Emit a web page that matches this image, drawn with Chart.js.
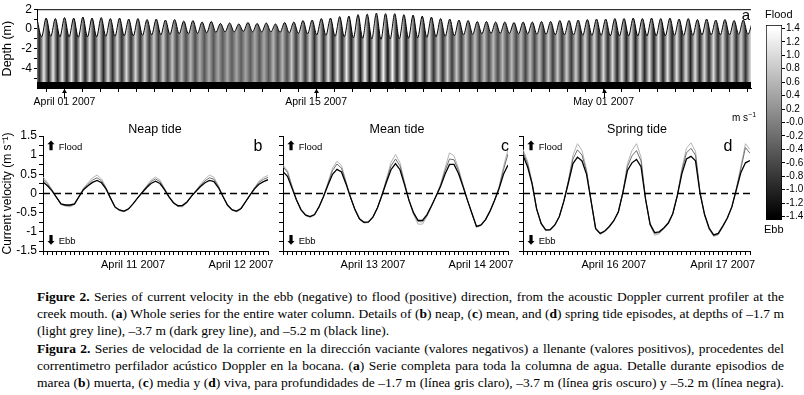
<!DOCTYPE html>
<html>
<head>
<meta charset="utf-8">
<script src="https://cdn.jsdelivr.net/npm/chart.js@4.4.1/dist/chart.umd.min.js"></script>
<style>
  body { margin: 0; background: #fff; }
  #fig { position: relative; width: 804px; height: 395px; overflow: hidden; color: #000;
         font-family: 'Liberation Sans', Arial, sans-serif; }
  .box { position: absolute; }
  .t { position: absolute; white-space: nowrap; line-height: 1; }
  .c { transform: translate(-50%, -50%); }
  .l { transform: translate(0, -50%); }
  #cap { position: absolute; left: 37px; top: 288px; width: 747px; line-height: 17px;
         font-family: 'Liberation Serif', 'Times New Roman', serif; font-size: 13.5px; }
  #cap div { white-space: nowrap; text-align: justify; text-align-last: justify; }
  #cap div.last { text-align-last: left; }
  #cap div.gap { margin-top: 1px; }
</style>
</head>
<body>
<div id="fig">
  <div class="box" style="left:0;top:0;width:760px;height:112px"><canvas id="chartWhole"></canvas></div>
  <div class="box" style="left:700px;top:0;width:104px;height:240px"><canvas id="chartScale"></canvas></div>
  <div class="box" style="left:0;top:115px;width:280px;height:160px"><canvas id="chartNeap"></canvas></div>
  <div class="box" style="left:270px;top:115px;width:250px;height:160px"><canvas id="chartMean"></canvas></div>
  <div class="box" style="left:510px;top:115px;width:250px;height:160px"><canvas id="chartSpring"></canvas></div>

  <span class="t c" style="left:746px;top:14px;font-size:15px">a</span>
  <span class="t l" style="left:765px;top:14px;font-size:11px">Flood</span>
  <span class="t l" style="left:764px;top:229px;font-size:11px">Ebb</span>
  <span class="t l" style="left:732px;top:117px;font-size:10px">m s<sup style="font-size:7px">−1</sup></span>

  <span class="t c" style="left:155px;top:129px;font-size:12.5px">Neap tide</span>
  <span class="t c" style="left:397px;top:129px;font-size:12.5px">Mean tide</span>
  <span class="t c" style="left:637px;top:129px;font-size:12.5px">Spring tide</span>
  <span class="t c" style="left:258px;top:146px;font-size:16px">b</span>
  <span class="t c" style="left:505px;top:146px;font-size:16px">c</span>
  <span class="t c" style="left:728px;top:146px;font-size:16px">d</span>

  <span class="t l" style="left:46px;top:146px;font-size:9.5px"><b style="font-size:12px">⬆</b> Flood</span>
  <span class="t l" style="left:46px;top:240px;font-size:9.5px"><b style="font-size:12px">⬇</b> Ebb</span>
  <span class="t l" style="left:286px;top:146px;font-size:9.5px"><b style="font-size:12px">⬆</b> Flood</span>
  <span class="t l" style="left:286px;top:240px;font-size:9.5px"><b style="font-size:12px">⬇</b> Ebb</span>
  <span class="t l" style="left:526px;top:146px;font-size:9.5px"><b style="font-size:12px">⬆</b> Flood</span>
  <span class="t l" style="left:526px;top:240px;font-size:9.5px"><b style="font-size:12px">⬇</b> Ebb</span>

  <div id="cap">
    <div><b>Figure 2.</b> Series of current velocity in the ebb (negative) to flood (positive) direction, from the acoustic Doppler current profiler at the</div>
    <div>creek mouth. (<b>a</b>) Whole series for the entire water column. Details of (<b>b</b>) neap, (<b>c</b>) mean, and (<b>d</b>) spring tide episodes, at depths of –1.7 m</div>
    <div class="last">(light grey line), –3.7 m (dark grey line), and –5.2 m (black line).</div>
    <div class="gap"><b>Figura 2.</b> Series de velocidad de la corriente en la dirección vaciante (valores negativos) a llenante (valores positivos), procedentes del</div>
    <div>correntimetro perfilador acústico Doppler en la bocana. (<b>a</b>) Serie completa para toda la columna de agua. Detalle durante episodios de</div>
    <div>marea (<b>b</b>) muerta, (<b>c</b>) media y (<b>d</b>) viva, para profundidades de –1.7 m (línea gris claro), –3.7 m (línea gris oscuro) y –5.2 m (línea negra).</div>
  </div>
</div>

<script>
// ---- (a) whole record: water surface (m) at successive high / low waters
const highWater = [1.0, 1.1, 1.05, 1.15, 1.1, 1.2, 1.1, 1.15, 1.05, 1.1,
  1.0, 1.05, 0.95, 1.0, 0.9, 0.95, 0.8, 0.85, 0.7, 0.75,
  0.55, 0.6, 0.5, 0.65, 0.55, 0.6, 0.5, 0.65, 0.7, 0.85,
  0.9, 1.05, 1.1, 1.25, 1.3, 1.45, 1.5, 1.6, 1.55, 1.55,
  1.45, 1.4, 1.3, 1.2, 1.05, 1.0, 0.9, 0.85, 0.75, 0.75,
  0.7, 0.7, 0.65, 0.7, 0.7, 0.75, 0.75, 0.85, 0.85, 0.9,
  0.95, 1.0, 1.0, 1.05, 1.05, 1.1, 1.05, 1.1, 1.05, 1.1,
  1.0, 1.05, 0.95, 1.0, 0.9, 0.95, 0.85, 0.9, 0.75];
const lowWater = [-0.8, -0.75, -0.8, -0.8, -0.85, -0.8, -0.8, -0.75, -0.75, -0.7,
  -0.7, -0.65, -0.6, -0.6, -0.55, -0.5, -0.5, -0.45, -0.4, -0.35,
  -0.3, -0.3, -0.25, -0.3, -0.3, -0.3, -0.35, -0.4, -0.45, -0.5,
  -0.6, -0.65, -0.75, -0.8, -0.9, -0.95, -1.0, -1.05, -1.0, -1.0,
  -0.95, -0.9, -0.85, -0.8, -0.75, -0.7, -0.6, -0.55, -0.5, -0.45,
  -0.45, -0.45, -0.5, -0.5, -0.55, -0.55, -0.6, -0.6, -0.6, -0.65,
  -0.65, -0.65, -0.7, -0.7, -0.7, -0.7, -0.7, -0.7, -0.7, -0.65,
  -0.65, -0.65, -0.6, -0.6, -0.6, -0.6, -0.55, -0.55];
// daily peak flood / ebb velocity (m s-1), days -2 .. 38 from April 01
const floodPeak = [1.1, 1.15, 1.15, 1.1, 1.05, 1.0, 0.95, 0.85, 0.75, 0.6,
  0.5, 0.45, 0.4, 0.45, 0.6, 0.8, 0.95, 1.1, 1.2, 1.3,
  1.3, 1.2, 1.05, 0.9, 0.8, 0.7, 0.65, 0.65, 0.7, 0.8,
  0.85, 0.95, 1.0, 1.05, 1.1, 1.1, 1.1, 1.05, 1.0, 0.95, 0.9];
const ebbPeak = [-1.0, -1.05, -1.05, -1.0, -0.95, -0.9, -0.85, -0.75, -0.65, -0.55,
  -0.45, -0.4, -0.4, -0.45, -0.55, -0.75, -0.9, -1.0, -1.1, -1.2,
  -1.2, -1.1, -0.95, -0.85, -0.75, -0.65, -0.6, -0.6, -0.65, -0.75,
  -0.8, -0.9, -0.95, -1.0, -1.0, -1.05, -1.0, -1.0, -0.95, -0.9, -0.85];
const firstDay = -2;
const surfaceStart = -1.53;     // days from April 01, first high water
const halfTide = 0.2552;        // days between high and low water
const dayMin = -1.53, dayMax = 38.2;
const bedLevel = -5.4;
const depthTicks = [2, 1, 0, -1, -2, -3, -4, -5];
const depthLabels = ['2', '', '0', '', '-2', '', '-4', ''];
const markDays = [0, 14, 30];
const markLabels = ['April 01 2007', 'April 15 2007', 'May 01 2007'];

// colour scale
const scaleTicks = [1.4, 1.2, 1.0, 0.8, 0.6, 0.4, 0.2, 0, -0.2, -0.4, -0.6, -0.8, -1.0, -1.2, -1.4];
const scaleLabels = ['1.4', '1.2', '1.0', '0.8', '0.6', '0.4', '0.2', '-0.0', '-0.2', '-0.4', '-0.6', '-0.8', '-1.0', '-1.2', '-1.4'];

// ---- (b)(c)(d) hourly velocity, hours from 04:00 of the day before the first label
const neapBlack = [0.30, 0.20, 0.07, -0.10, -0.27, -0.30, -0.30, -0.27, -0.08, 0.10, 0.20, 0.29, 0.34, 0.28, 0.12, -0.12, -0.35, -0.43, -0.46, -0.40, -0.27, -0.12, 0.02, 0.15, 0.26, 0.32, 0.26, 0.10, -0.09, -0.24, -0.32, -0.31, -0.22, -0.07, 0.06, 0.18, 0.28, 0.34, 0.31, 0.15, -0.08, -0.30, -0.42, -0.46, -0.39, -0.22, -0.04, 0.12, 0.24, 0.31, 0.36];
const neapDark = [0.37, 0.25, 0.09, -0.10, -0.28, -0.31, -0.32, -0.28, -0.08, 0.12, 0.24, 0.35, 0.41, 0.33, 0.14, -0.12, -0.36, -0.44, -0.47, -0.41, -0.27, -0.12, 0.03, 0.18, 0.31, 0.38, 0.31, 0.12, -0.09, -0.25, -0.33, -0.33, -0.23, -0.07, 0.07, 0.21, 0.33, 0.41, 0.37, 0.18, -0.08, -0.31, -0.43, -0.47, -0.40, -0.22, -0.04, 0.14, 0.29, 0.37, 0.42];
const neapLight = [0.43, 0.29, 0.10, -0.10, -0.29, -0.33, -0.35, -0.29, -0.08, 0.14, 0.28, 0.41, 0.48, 0.38, 0.16, -0.12, -0.37, -0.45, -0.48, -0.42, -0.27, -0.12, 0.03, 0.20, 0.35, 0.43, 0.35, 0.13, -0.09, -0.26, -0.34, -0.35, -0.24, -0.07, 0.08, 0.24, 0.38, 0.48, 0.42, 0.20, -0.08, -0.32, -0.44, -0.48, -0.41, -0.22, -0.04, 0.15, 0.32, 0.42, 0.47];
const meanBlack = [0.57, 0.45, 0.14, -0.17, -0.42, -0.56, -0.60, -0.55, -0.35, -0.08, 0.22, 0.50, 0.63, 0.56, 0.25, -0.10, -0.42, -0.66, -0.75, -0.74, -0.61, -0.37, -0.04, 0.30, 0.62, 0.78, 0.62, 0.23, -0.18, -0.50, -0.70, -0.70, -0.55, -0.32, -0.07, 0.18, 0.50, 0.76, 0.76, 0.52, 0.18, -0.18, -0.52, -0.86, -0.82, -0.68, -0.46, -0.18, 0.12, 0.50, 0.74];
const meanDark = [0.70, 0.55, 0.18, -0.17, -0.43, -0.57, -0.61, -0.56, -0.35, -0.08, 0.26, 0.60, 0.77, 0.66, 0.29, -0.10, -0.43, -0.67, -0.76, -0.75, -0.62, -0.37, -0.04, 0.35, 0.72, 0.90, 0.72, 0.27, -0.18, -0.51, -0.73, -0.74, -0.57, -0.33, -0.07, 0.21, 0.59, 0.90, 0.88, 0.60, 0.21, -0.18, -0.53, -0.87, -0.83, -0.69, -0.46, -0.18, 0.15, 0.62, 1.03];
const meanLight = [0.74, 0.60, 0.20, -0.17, -0.44, -0.58, -0.62, -0.57, -0.35, -0.08, 0.29, 0.66, 0.84, 0.73, 0.32, -0.10, -0.44, -0.68, -0.77, -0.76, -0.62, -0.37, -0.04, 0.39, 0.81, 1.02, 0.80, 0.30, -0.18, -0.55, -0.80, -0.80, -0.60, -0.34, -0.07, 0.24, 0.66, 1.06, 0.98, 0.66, 0.23, -0.18, -0.54, -0.88, -0.84, -0.70, -0.47, -0.18, 0.18, 0.70, 1.15];
const springBlack = [1.00, 0.70, 0.25, -0.40, -0.78, -0.95, -0.94, -0.82, -0.60, -0.20, 0.28, 0.78, 0.95, 0.85, 0.50, -0.20, -0.91, -1.04, -0.98, -0.86, -0.71, -0.48, 0.02, 0.60, 0.80, 0.89, 0.70, -0.15, -0.80, -1.02, -1.00, -0.90, -0.77, -0.52, -0.05, 0.52, 0.90, 0.97, 0.85, 0.00, -0.55, -0.90, -1.08, -1.04, -0.85, -0.64, -0.35, 0.10, 0.55, 0.80, 0.86];
const springDark = [1.08, 0.78, 0.28, -0.40, -0.79, -0.96, -0.95, -0.83, -0.60, -0.20, 0.32, 0.90, 1.14, 1.00, 0.58, -0.20, -0.92, -1.05, -0.99, -0.87, -0.71, -0.48, 0.03, 0.70, 0.98, 1.12, 0.85, -0.15, -0.81, -1.04, -1.02, -0.91, -0.78, -0.53, -0.05, 0.60, 1.06, 1.18, 1.00, 0.02, -0.56, -0.92, -1.10, -1.06, -0.86, -0.65, -0.35, 0.12, 0.65, 1.20, 1.05];
const springLight = [1.15, 0.85, 0.30, -0.42, -0.80, -0.97, -0.96, -0.84, -0.61, -0.20, 0.35, 1.00, 1.30, 1.12, 0.62, -0.20, -0.93, -1.07, -1.00, -0.88, -0.72, -0.48, 0.03, 0.78, 1.12, 1.30, 0.95, -0.15, -0.83, -1.09, -1.05, -0.93, -0.79, -0.54, -0.05, 0.66, 1.18, 1.32, 1.10, 0.03, -0.57, -0.94, -1.12, -1.08, -0.88, -0.66, -0.36, 0.14, 0.72, 1.30, 1.15];
const hourMin = 0, hourMax = 50;
const sampleHours = Array.from({length: 51}, (_, i) => i);
const dateHours = [20, 44];
const neapDates = ['April 11 2007', 'April 12 2007'];
const meanDates = ['April 13 2007', 'April 14 2007'];
const springDates = ['April 16 2007', 'April 17 2007'];
const velocityTicks = [1.5, 1.25, 1, 0.75, 0.5, 0.25, 0, -0.25, -0.5, -0.75, -1, -1.25, -1.5];
const velocityLabels = ['1.5', '', '1', '', '0.5', '', '0', '', '-0.5', '', '-1', '', '-1.5'];

// Global Chart.js configuration
Chart.defaults.font.family = "'Liberation Sans', Arial, sans-serif";
Chart.defaults.color = '#000';
Chart.defaults.animation = false;
Chart.defaults.plugins.legend.display = false;
Chart.defaults.plugins.tooltip.enabled = false;

function velocityGrey(v) {
  let t = (v + 1.4) / 2.8;
  t = Math.max(0, Math.min(1, t));
  const g = Math.round(t * 255);
  return 'rgb(' + g + ',' + g + ',' + g + ')';
}

// interleave high and low waters
let surfacePoints = [];
for (let i = 0; i < highWater.length; i++) {
  surfacePoints.push({x: surfaceStart + 2 * i * halfTide, y: highWater[i]});
  if (i < lowWater.length) {
    surfacePoints.push({x: surfaceStart + (2 * i + 1) * halfTide, y: lowWater[i]});
  }
}

// vertical stripes: slack water grey at high/low water, peak ebb after high water, peak flood after low water
function stripeFill(context) {
  const chart = context.chart;
  const area = chart.chartArea;
  const xs = chart.scales.x;
  if (!area || !xs) return '#808080';
  const grad = chart.ctx.createLinearGradient(area.left, 0, area.right, 0);
  const w = area.right - area.left;
  let last = -1;
  const addStop = (t, v) => {
    let off = (xs.getPixelForValue(t) - area.left) / w;
    if (off < 0 || off > 1 || off <= last) return;
    grad.addColorStop(off, velocityGrey(v));
    last = off;
  };
  surfacePoints.forEach((p, i) => {
    addStop(p.x, 0);
    const tm = p.x + halfTide / 2;
    let d = Math.round(tm) - firstDay;
    d = Math.max(0, Math.min(floodPeak.length - 1, d));
    addStop(tm, i % 2 === 0 ? ebbPeak[d] : floodPeak[d]);
  });
  return grad;
}

const wholeDecor = {
  id: 'wholeDecor',
  afterDraw(chart) {
    const {ctx, chartArea, scales} = chart;
    ctx.save();
    ctx.strokeStyle = '#000';
    ctx.fillStyle = '#000';
    ctx.lineWidth = 1;
    ctx.beginPath();
    ctx.moveTo(chartArea.left, chartArea.top + 0.5);
    ctx.lineTo(chartArea.right, chartArea.top + 0.5);
    ctx.stroke();
    markDays.forEach(d => {
      const x = Math.round(scales.x.getPixelForValue(d)) + 0.5;
      const y0 = chartArea.bottom + 1;
      ctx.beginPath();
      ctx.moveTo(x, y0 + 2);
      ctx.lineTo(x, y0 + 9);
      ctx.stroke();
      ctx.beginPath();
      ctx.moveTo(x, y0);
      ctx.lineTo(x - 2.5, y0 + 4);
      ctx.lineTo(x + 2.5, y0 + 4);
      ctx.closePath();
      ctx.fill();
    });
    ctx.restore();
  }
};

new Chart(document.getElementById('chartWhole'), {
  type: 'line',
  data: {
    datasets: [
      {
        data: surfacePoints,
        borderColor: '#000',
        borderWidth: 1,
        pointRadius: 0,
        cubicInterpolationMode: 'monotone',
        fill: {value: bedLevel},
        backgroundColor: stripeFill
      },
      {
        data: [{x: dayMin, y: bedLevel}, {x: dayMax, y: bedLevel}],
        borderWidth: 0,
        pointRadius: 0,
        fill: 'start',
        backgroundColor: '#000'
      }
    ]
  },
  options: {
    responsive: true,
    maintainAspectRatio: false,
    layout: {padding: {top: 9, right: 9, left: 0, bottom: 0}},
    scales: {
      x: {
        type: 'linear', min: dayMin, max: dayMax,
        afterFit: a => { a.height = 24; },
        afterBuildTicks: a => {
          let t = [];
          for (let d = Math.ceil(dayMin); d <= dayMax; d++) t.push({value: d});
          a.ticks = t;
        },
        ticks: {
          autoSkip: false, maxRotation: 0, padding: 4, font: {size: 10.5},
          callback: v => { const k = markDays.indexOf(v); return k < 0 ? '' : markLabels[k]; }
        },
        grid: {drawOnChartArea: false, tickLength: 4, color: '#000'},
        border: {color: '#000'}
      },
      y: {
        min: -6, max: 2,
        afterFit: a => { a.width = 37; },
        afterBuildTicks: a => { a.ticks = depthTicks.map(v => ({value: v})); },
        ticks: {
          autoSkip: false, padding: 2, font: {size: 12},
          callback: (v, i) => depthLabels[i]
        },
        grid: {drawOnChartArea: false, tickLength: 3, color: '#000'},
        border: {color: '#000'},
        title: {display: true, text: 'Depth (m)', font: {size: 12.5}, padding: {top: 0, bottom: 0}}
      }
    }
  },
  plugins: [wholeDecor]
});

// colour scale bar
new Chart(document.getElementById('chartScale'), {
  type: 'bar',
  data: {
    labels: ['v'],
    datasets: [{
      data: [[-1.45, 1.45]],
      barPercentage: 1,
      categoryPercentage: 1,
      borderColor: '#000',
      borderWidth: 1,
      borderSkipped: false,
      backgroundColor: context => {
        const chart = context.chart;
        const area = chart.chartArea;
        const ys = chart.scales.y;
        if (!area || !ys) return '#808080';
        const grad = chart.ctx.createLinearGradient(0, ys.getPixelForValue(-1.4), 0, ys.getPixelForValue(1.4));
        grad.addColorStop(0, velocityGrey(-1.4));
        grad.addColorStop(1, velocityGrey(1.4));
        return grad;
      }
    }]
  },
  options: {
    responsive: true,
    maintainAspectRatio: false,
    layout: {padding: {top: 25, bottom: 20, left: 66, right: 0}},
    scales: {
      x: {display: false},
      y: {
        position: 'right', min: -1.45, max: 1.45,
        afterFit: a => { a.width = 22; },
        afterBuildTicks: a => { a.ticks = scaleTicks.map(v => ({value: v})); },
        ticks: {autoSkip: false, padding: 1, font: {size: 10}, callback: (v, i) => scaleLabels[i]},
        grid: {drawOnChartArea: false, tickLength: 3, color: '#000'},
        border: {display: false}
      }
    }
  }
});

function makeTidePanel(id, black, dark, light, dates, yWidth, rightPad, showLabels) {
  const pts = arr => arr.map((v, i) => ({x: sampleHours[i], y: v}));
  return new Chart(document.getElementById(id), {
    type: 'line',
    data: {
      datasets: [
        {data: [{x: hourMin, y: 0}, {x: hourMax, y: 0}], borderColor: '#000', borderWidth: 1.3, borderDash: [7, 4]},
        {data: pts(black), borderColor: '#000', borderWidth: 1.3},
        {data: pts(dark), borderColor: '#6e6e6e', borderWidth: 1},
        {data: pts(light), borderColor: '#b4b4b4', borderWidth: 1}
      ]
    },
    options: {
      responsive: true,
      maintainAspectRatio: false,
      layout: {padding: {top: 21, right: rightPad, left: 0, bottom: 0}},
      elements: {point: {radius: 0}, line: {tension: 0}},
      scales: {
        x: {
          type: 'linear', min: hourMin, max: hourMax,
          afterFit: a => { a.height = 24; },
          afterBuildTicks: a => { a.ticks = sampleHours.map(v => ({value: v})); },
          ticks: {
            autoSkip: false, maxRotation: 0, padding: 3, font: {size: 11},
            callback: v => { const k = dateHours.indexOf(v); return k < 0 ? '' : dates[k]; }
          },
          grid: {drawOnChartArea: false, tickLength: 4, color: '#000'},
          border: {color: '#000'}
        },
        y: {
          min: -1.5, max: 1.5,
          afterFit: a => { a.width = yWidth; },
          afterBuildTicks: a => { a.ticks = velocityTicks.map(v => ({value: v})); },
          ticks: {
            autoSkip: false, padding: 2, font: {size: 12},
            callback: (v, i) => showLabels ? velocityLabels[i] : ''
          },
          grid: {drawOnChartArea: false, tickLength: 4, color: '#000'},
          border: {color: '#000'},
          title: {display: showLabels, text: 'Current velocity (m s⁻¹)', font: {size: 12}, padding: {top: 0, bottom: 0}}
        }
      }
    }
  });
}

makeTidePanel('chartNeap', neapBlack, neapDark, neapLight, neapDates, 43, 12, true);
makeTidePanel('chartMean', meanBlack, meanDark, meanLight, meanDates, 13, 12, false);
makeTidePanel('chartSpring', springBlack, springDark, springLight, springDates, 13, 10, false);
</script>
</body>
</html>
